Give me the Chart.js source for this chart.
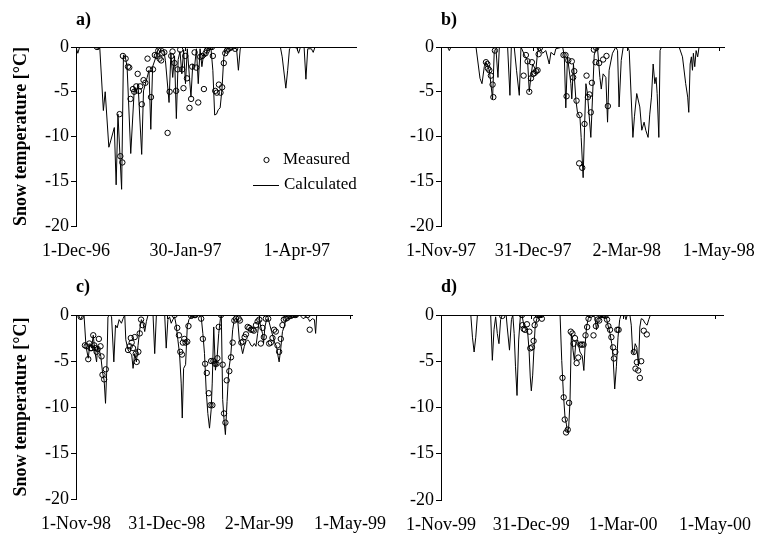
<!DOCTYPE html>
<html>
<head>
<meta charset="utf-8">
<script src="https://cdn.jsdelivr.net/npm/chart.js@4.4.1/dist/chart.umd.min.js"></script>
<style>
  html, body { margin: 0; padding: 0; background: #fff; }
  #wrap { position: relative; width: 758px; height: 534px; overflow: hidden; }
  canvas { position: absolute; }
</style>
</head>
<body>
<div id="wrap">
  <canvas id="chart-a" width="400" height="267" style="left:0;top:0"></canvas>
  <canvas id="chart-b" width="379" height="267" style="left:379px;top:0"></canvas>
  <canvas id="chart-c" width="400" height="267" style="left:0;top:267px"></canvas>
  <canvas id="chart-d" width="379" height="267" style="left:379px;top:267px"></canvas>
</div>
<script>
'use strict';

// DATA (x = days since first tick date, y = snow temperature in degC)
const ticksA = [0, 60, 121];
const labelsA = ['1-Dec-96', '30-Jan-97', '1-Apr-97'];
const ticksB = [0, 60, 121, 181];
const labelsB = ['1-Nov-97', '31-Dec-97', '2-Mar-98', '1-May-98'];
const ticksC = [0, 60, 121, 181];
const labelsC = ['1-Nov-98', '31-Dec-98', '2-Mar-99', '1-May-99'];
const ticksD = [0, 60, 121, 182];
const labelsD = ['1-Nov-99', '31-Dec-99', '1-Mar-00', '1-May-00'];

const calcA = [[0,0],[1,-0.7],[2,0],[11,0],[12,-0.3],[13,0],[15,-7.1],[16,-5.0],[18,-11.2],[19,-10.5],[21,-9.0],[22,-15.4],[23,-7.5],[25,-15.9],[26,-0.9],[27,-1.1],[28,-2.2],[30,-11.9],[32,-4.5],[33,-5.2],[34,-4.1],[36,-12.0],[37,-4.9],[39,-3.4],[40,-2.6],[41,-9.2],[42,-2.2],[44,-1.0],[45,-0.2],[46,-0.6],[47,0],[48,-0.3],[49,-1.5],[51,-6.2],[52,-0.7],[53,-3.4],[54,-1.0],[55,-8.0],[56,-1.4],[57,-0.5],[58,-3.0],[59,-0.3],[60,-4.1],[61,-0.2],[63,-5.6],[64,-1.9],[65,-2.2],[66,-0.2],[67,-4.1],[68,-0.2],[69,-2.2],[70,-0.7],[71,-1.1],[72,-0.2],[73,0],[74,-0.2],[75,-2.6],[76,-7.6],[77,-7.5],[78,-7.0],[79,-6.8],[80,-4.7],[81,-1.1],[82,-0.4],[83,-0.2],[84,0],[86,-0.1],[88,-0.2],[89,-2.6],[90,-0.2],[91,0],[112,0],[113,-1.1],[115,-4.6],[116,-2.6],[117,-0.2],[118,0],[121,-0.1],[122,-0.7],[123,0],[125,0],[126,-3.6],[127,-0.2],[129,-0.2],[130,-0.6],[131,0],[154,0]];
const measA = [[11.5,0],[23.9,-7.5],[24.3,-12.2],[25.4,-12.9],[25.7,-1.0],[27.2,-1.3],[28.5,-2.2],[29.2,-2.3],[29.9,-5.8],[31.2,-4.7],[31.9,-5.0],[33.0,-4.4],[33.8,-3.0],[34.5,-4.9],[35.2,-4.4],[36.1,-6.4],[37.0,-3.7],[38.0,-4.0],[39.2,-1.3],[40.0,-2.5],[41.1,-5.6],[42.2,-2.5],[43.2,-0.9],[44.3,-1.0],[45.1,-0.4],[45.8,-1.3],[46.7,-1.5],[47.3,-0.7],[48.4,-0.6],[50.2,-9.6],[51.3,-5.0],[52.2,-1.0],[52.9,-0.5],[54.0,-1.8],[54.9,-4.9],[55.7,-2.5],[57.1,-0.3],[58.2,-2.5],[58.9,-4.6],[59.9,-1.0],[60.8,-3.5],[62.2,-6.8],[63.1,-5.8],[63.7,-2.2],[65.0,-0.6],[65.9,-2.3],[67.0,-6.2],[68.1,-1.1],[69.2,-1.0],[70.1,-4.7],[71.0,-0.7],[71.7,-0.4],[72.4,-0.1],[73.5,0],[74.5,0],[75.0,-1.0],[76.3,-4.9],[77.2,-5.1],[78.3,-4.2],[79.2,-5.1],[80.1,-4.5],[81.0,-1.8],[81.8,-0.7],[82.7,-0.4],[83.6,-0.2],[84.5,-0.1],[85.4,0],[87.2,-0.2]];

const calcB = [[0,0],[4.3,0],[5.4,-0.4],[6.5,0],[22.8,0],[25.4,-3.5],[26.7,-4.1],[28.2,-2.2],[29.3,-1.7],[31.5,-2.6],[33.6,-5.8],[34.7,-0.4],[35.8,-0.2],[37.1,-3.4],[38,0],[43.4,0],[44.9,-5.4],[45.8,0],[47.7,0],[49.2,-2.6],[51,-5.4],[52.1,0],[54.9,-1.1],[56.4,-1.5],[57.5,-5.0],[58.5,-3.4],[59.7,-1.9],[61.8,-2.6],[62.9,-0.6],[64,0],[66.2,-0.7],[68.3,-0.4],[70.5,-1.9],[71.6,-0.6],[73.8,-0.9],[74.8,-0.2],[79.2,0],[80.3,-0.9],[81.3,-6.8],[82.4,-1.1],[84.6,-4.1],[85.2,-5.8],[86.3,-1.9],[87.9,-6.0],[88.9,-7.3],[90.5,-7.8],[91.3,-10.1],[92.6,-14.6],[93.5,-9.0],[94.4,-4.1],[95.4,-5.2],[97.6,-10.1],[98.7,-5.6],[99.8,-0.9],[100.9,-0.2],[101.9,0],[103.5,-3.4],[104.4,-4.7],[105.6,-3.0],[107.4,-3.4],[108.5,-8.4],[109.5,-2.6],[111.7,-0.7],[113.9,0],[115,-0.4],[116,-6.7],[117.4,-1.5],[118.7,0],[121.5,0],[122.6,-0.4],[125,-10.1],[126,-7.8],[127.5,-5.2],[129.5,-6.7],[130.8,-9.3],[132.3,-8.4],[133.4,-9.3],[134.9,-10.1],[136,-7.5],[137.1,-5.6],[138.2,-1.9],[139.3,-4.1],[140.1,-3.4],[140.8,-5.2],[141.9,-10.1],[142.7,-0.4],[143.6,0],[155.1,0],[157.3,-1.1],[159.4,-4.1],[160.7,-5.6],[161.4,-7.3],[162.3,-1.9],[163.1,-1.1],[163.8,-2.6],[164.4,-0.7],[165.3,-2.2],[166.2,-0.4],[167.2,-1.1],[168.1,0],[185,0]];
const measB = [[29.3,-1.7],[30.2,-1.9],[30.6,-2.4],[31.5,-2.6],[32.5,-3.2],[33.6,-4.2],[34.1,-5.6],[35.1,-0.4],[53.8,-3.2],[55.3,-0.9],[56.4,-1.6],[57.5,-5.0],[58.6,-3.5],[59.2,-1.7],[60.1,-3.0],[61,-2.9],[62,-2.7],[62.9,-2.6],[63.6,-0.8],[64.4,-0.1],[79.8,-0.9],[81.1,-0.9],[81.8,-5.5],[82.9,-1.5],[85.2,-1.6],[86.1,-3.4],[86.8,-2.7],[88.3,-6.0],[90.2,-7.6],[90,-13.0],[92,-13.5],[93.5,-8.6],[94.8,-3.2],[95.7,-5.6],[96.7,-5.3],[97.6,-7.3],[98.3,-4.0],[99.6,-0.3],[100.7,-1.7],[101.1,-0.1],[103,-1.8],[105.6,-1.4],[107.8,-1.0],[108.7,-6.6]];

const calcC = [[0,0],[1.5,0],[3.1,-0.5],[4.4,0],[5.3,0],[6.6,-3.4],[8.1,-4.7],[9.2,-3.1],[10.3,-3.6],[11.4,-2.2],[12.5,-4.0],[13.6,-5.1],[14.3,-3.4],[15.4,-3.8],[16.4,-4.5],[17.5,-6.2],[18.6,-7.1],[19.5,-9.6],[20.4,-5.6],[21.1,-0.2],[22.4,0],[23.5,-0.2],[25,-5.1],[26.1,-1.1],[27.2,-1.4],[28.5,-0.5],[30,-0.9],[31.1,-0.4],[32.2,0],[32.9,-2.7],[34.4,-3.8],[36,-4.2],[36.8,-4.3],[37.7,-5.8],[38.8,-4.2],[39.9,-5.1],[41,-3.3],[42.1,-1.6],[43.2,-0.5],[44.3,-0.9],[45.4,-1.8],[46.5,-0.7],[47.6,0],[50.9,0],[52,-4.2],[53.1,0],[58.6,0],[59.6,-3.6],[60.7,-0.5],[61.8,-0.2],[62.9,-0.9],[64,-0.5],[65.1,-0.2],[66.2,-1.1],[67.3,-2.7],[68.4,-4.2],[69.5,-7.4],[70.2,-11.2],[71.1,-5.8],[72.4,-5.4],[73.5,-1.3],[74.6,-0.5],[76.1,-0.2],[77.2,0],[81.6,0],[82.7,-0.2],[83.8,-2.0],[84.9,-4.2],[86,-8.2],[87.1,-10.7],[88.2,-12.3],[89.3,-10.3],[90,-7.4],[91,-1.3],[92.1,-6.0],[93.2,-4.7],[94.3,-2.0],[95.4,-0.4],[96,0],[96.9,-9.2],[97.8,-11.4],[98.7,-13.0],[99.8,-9.4],[100.9,-6.0],[102.2,-4.5],[103.5,-1.6],[104.6,-0.5],[105.7,-0.4],[106.8,-0.5],[107.9,-2.7],[109,-3.3],[110.1,-4.2],[111.2,-3.4],[112.3,-2.9],[113.4,-2.7],[114.5,-2.9],[115.6,-3.3],[116.7,-3.4],[117.8,-3.1],[118.9,-3.4],[120,-2.0],[121.1,-0.5],[122.1,-1.3],[123.2,-2.0],[123.9,-3.1],[124.8,-1.3],[125.9,-0.5],[127,-0.4],[128.1,-1.1],[129.2,-1.8],[130.3,-2.4],[131.4,-3.1],[132.5,-3.4],[133.3,-4.3],[134.2,-5.1],[135.3,-3.6],[136.4,-1.8],[137.5,-1.3],[138.6,-0.5],[139.9,-0.4],[141.2,-0.2],[143,0],[145.6,-0.2],[147.8,0],[150,-0.4],[152.2,-0.2],[153.5,-0.4],[154.4,-0.7],[156.1,-0.4],[157.5,-0.5],[158.3,-2.0],[159,0],[183,0]];
const measC = [[3.1,-0.2],[5.9,-3.3],[7,-3.4],[8.1,-4.8],[8.8,-3.1],[9.6,-3.6],[10.3,-3.6],[11.4,-2.2],[12.1,-3.3],[12.7,-3.6],[13.6,-4.0],[14.3,-3.7],[15.1,-2.6],[16.2,-3.4],[16.9,-4.5],[17.5,-6.5],[18.6,-7.0],[19.7,-5.9],[34.4,-3.8],[35.5,-3.4],[36.2,-2.5],[36.8,-3.0],[37.7,-3.6],[38.8,-2.4],[39.5,-4.2],[40.1,-5.1],[41.2,-4.0],[42.1,-2.0],[43,-0.5],[43.9,-1.1],[65.1,0],[66.9,-1.4],[68,-2.2],[68.9,-4.0],[70,-4.3],[70.6,-3.0],[71.5,-2.6],[72.4,-3.0],[73.5,-2.9],[74.3,-1.2],[76.1,-0.1],[77.2,0],[78.3,0],[78.9,0],[82.7,-0.4],[83.8,-2.6],[85.3,-5.3],[86.4,-6.3],[87.7,-8.5],[88.8,-9.8],[89.3,-5.0],[90.1,-9.8],[90.8,-5.0],[91.9,-5.3],[92.8,-5.3],[93.4,-4.7],[94.3,-1.3],[95.8,0],[96.9,-5.4],[97.8,-10.7],[98.7,-11.7],[99.6,-7.1],[101.3,-6.1],[102.4,-4.6],[103.5,-3.0],[104.6,-0.6],[105.7,-0.4],[107.5,-0.4],[108.3,-0.6],[109.2,-3.0],[110.3,-2.9],[111.4,-2.4],[112.3,-2.1],[113.4,-1.3],[114.5,-1.4],[115.6,-1.6],[116.7,-1.6],[117.5,-1.7],[118.9,-1.1],[120,-0.7],[121.1,-0.5],[122.1,-3.1],[123.2,-1.4],[124.1,-2.4],[125.4,-0.4],[127,-0.4],[127.6,-3.1],[128.7,-3.0],[129.8,-2.5],[130.9,-1.6],[132,-1.8],[133.1,-3.3],[134.2,-4.0],[135.3,-2.6],[136.4,-1.1],[137.3,-0.5],[138.6,-0.4],[139.7,-0.3],[140.8,-0.1],[141.9,-0.1],[143,0],[144.1,0],[145.2,0],[152.9,0],[154.4,-1.6]];

const calcD = [[0,0],[19.8,0],[20.9,-2.4],[22,-4.0],[23.1,-2.4],[24.2,0],[33,0],[34.1,-4.9],[35.2,-1.6],[36.3,-0.2],[37.4,-2.0],[38.5,-3.1],[39.6,-0.5],[40.7,0],[43.3,0],[44,-1.3],[45.5,-3.8],[46.8,-0.5],[47.7,0],[48.6,-2.0],[49.5,-5.6],[50.5,-8.7],[51.6,-2.7],[52.7,-0.2],[53.8,0],[55.2,-1.3],[56.5,-1.6],[57.4,-1.5],[58.5,-3.8],[59.3,-6.7],[60,-8.2],[60.9,-6.5],[61.8,-3.5],[62.6,-1.1],[63.7,-0.4],[64.8,0],[79.1,0],[80.2,-4.9],[81.3,-8.5],[82.4,-11.1],[83.3,-11.8],[84,-12.7],[84.8,-12.2],[85.7,-9.3],[86.6,-2.0],[87.7,-3.8],[88.6,-4.9],[89.5,-3.1],[90.8,-2.7],[92.3,-4.0],[93.8,-4.4],[94.9,-6.0],[95.8,-3.1],[96.7,-1.3],[97.8,-0.4],[98.9,0],[102.2,-0.2],[103.3,-1.6],[104.4,-0.5],[105.7,-0.2],[107,0],[109.2,0],[110.1,-0.5],[111.2,-1.3],[112.3,-2.0],[113.4,-3.1],[114.3,-4.5],[115.4,-8.0],[116.5,-5.6],[117.6,-2.4],[118.7,-0.5],[119.6,0],[122,0],[122.9,-0.5],[123.7,0],[125.5,0],[126.4,-1.1],[127.3,-4.0],[128.1,-4.2],[129,-3.1],[130.1,-3.5],[131.2,-5.5],[132.1,-1.3],[133,-0.4],[134.3,-0.5],[135.6,-0.9],[136.9,-1.1],[138,-0.5],[139.1,0],[188,0]];
const measD = [[40.7,-0.1],[53.8,0],[54.1,-1.1],[54.9,-1.5],[55.8,-1.6],[57.1,-1.0],[58.7,-1.8],[59.3,-3.6],[60.4,-3.5],[61.5,-2.8],[62.2,-1.1],[63.3,-0.5],[64.2,0],[65.3,0],[66.4,0],[67,-0.4],[80.7,-6.8],[81.5,-8.9],[82.2,-11.3],[83.1,-12.7],[84.2,-12.4],[85.1,-9.5],[86.2,-1.8],[87.3,-2.0],[88.1,-3.1],[89,-2.5],[90.1,-5.2],[91.2,-4.6],[92.5,-3.2],[93.6,-3.2],[94.7,-3.2],[96,-2.2],[97.1,-1.3],[98,-0.4],[99.1,0],[101.3,-2.2],[102.9,-1.2],[104,-0.5],[105.1,-0.6],[105.9,0],[107,0],[108.1,0],[109.2,-0.1],[110.3,-0.5],[111.2,-1.2],[112.3,-1.6],[113.2,-2.4],[114.3,-3.5],[114.9,-4.7],[115.8,-4.0],[117.1,-1.6],[118,-1.6],[128.1,-4.0],[129.2,-5.8],[130.1,-5.1],[131,-6.0],[132.1,-6.8],[133,-5.0],[134.7,-1.7],[136.7,-2.1]];

// STYLE
const SERIF = "'Liberation Serif', 'Times New Roman', serif";
const INK = '#000';

function toPoints(pairs) {
  return pairs.map(p => ({ x: p[0], y: p[1] }));
}

// short downward tick marks on the zero line at each date tick
const zeroTicks = {
  id: 'zeroTicks',
  afterDatasetsDraw(chart) {
    const { ctx, chartArea, scales } = chart;
    ctx.save();
    ctx.strokeStyle = INK;
    ctx.lineWidth = 1;
    scales.x.ticks.forEach(t => {
      const px = Math.round(scales.x.getPixelForValue(t.value)) + 0.5;
      ctx.beginPath();
      ctx.moveTo(px, chartArea.top);
      ctx.lineTo(px, chartArea.top + 4);
      ctx.stroke();
    });
    ctx.restore();
  }
};

// legend box inside panel a
const innerLegend = {
  id: 'innerLegend',
  afterDraw(chart) {
    const { ctx, chartArea } = chart;
    const x0 = chartArea.left + 177;
    const y1 = chartArea.top + 113;
    const y2 = chartArea.top + 138;
    ctx.save();
    ctx.strokeStyle = INK;
    ctx.lineWidth = 1;
    ctx.beginPath();
    ctx.arc(x0 + 13.5, y1, 2.6, 0, Math.PI * 2);
    ctx.stroke();
    ctx.beginPath();
    ctx.moveTo(x0, y2 + 0.5);
    ctx.lineTo(x0 + 26, y2 + 0.5);
    ctx.stroke();
    ctx.fillStyle = INK;
    ctx.font = '17px ' + SERIF;
    ctx.textBaseline = 'middle';
    ctx.fillText('Measured', x0 + 30, y1);
    ctx.fillText('Calculated', x0 + 31, y2);
    ctx.restore();
  }
};

function makePanel(id, panel) {
  let plugins = [zeroTicks];
  if (panel.legend) {
    plugins.push(innerLegend);
  }

  new Chart(document.getElementById(id), {
    type: 'line',
    data: {
      datasets: [{
        label: 'Calculated',
        data: toPoints(panel.calc),
        borderColor: INK,
        borderWidth: 1,
        pointRadius: 0,
        tension: 0,
        fill: false,
        order: 2
      },
      {
        label: 'Measured',
        data: toPoints(panel.meas),
        showLine: false,
        pointStyle: 'circle',
        pointRadius: 2.7,
        pointBorderWidth: 1,
        pointBorderColor: INK,
        pointBackgroundColor: 'rgba(0,0,0,0)',
        order: 1
      }]
    },
    options: {
      responsive: false,
      animation: false,
      layout: {
        autoPadding: false,
        padding: { left: 0, right: panel.padRight, top: 0, bottom: 0 }
      },
      plugins: {
        legend: { display: false },
        tooltip: { enabled: false },
        title: {
          display: true,
          text: panel.letter,
          align: 'start',
          fullSize: false,
          color: INK,
          font: { family: SERIF, size: 18, weight: 'bold' },
          padding: { top: 10, bottom: panel.top - 31.6 }
        }
      },
      scales: {
        x: {
          type: 'linear',
          min: 0,
          max: panel.maxDay,
          afterBuildTicks: scale => {
            scale.ticks = panel.ticks.map(v => ({ value: v }));
          },
          afterFit: scale => {
            // labels may hang past the plot ends, like the original
            scale.height = panel.xHeight;
            scale.paddingLeft = 0;
            scale.paddingRight = 0;
          },
          ticks: {
            autoSkip: false,
            maxRotation: 0,
            padding: 14,
            color: INK,
            font: { family: SERIF, size: 18 },
            callback: (v, i) => panel.labels[i]
          },
          grid: { display: false, drawTicks: false },
          border: { display: false }
        },
        y: {
          min: -20,
          max: 0,
          afterFit: scale => {
            scale.width = panel.yWidth;
          },
          ticks: {
            stepSize: 5,
            padding: 2,
            color: INK,
            font: { family: SERIF, size: 18 }
          },
          grid: {
            color: ctx => (ctx.tick && ctx.tick.value === 0 ? INK : 'rgba(0,0,0,0)'),
            tickColor: INK,
            tickLength: 5,
            lineWidth: 1
          },
          border: { display: true, color: INK, width: 1 },
          title: {
            display: panel.yTitle,
            text: 'Snow temperature [°C]',
            color: INK,
            font: { family: SERIF, size: 18, weight: 'bold' },
            padding: { top: 11, bottom: 0 }
          }
        }
      }
    },
    plugins: plugins
  });
}

// PANELS
makePanel('chart-a', { letter: 'a)', calc: calcA, meas: measA, ticks: ticksA, labels: labelsA, maxDay: 154,
  padRight: 43, yWidth: 76, xHeight: 41, top: 47, yTitle: true, legend: true });
makePanel('chart-b', { letter: 'b)', calc: calcB, meas: measB, ticks: ticksB, labels: labelsB, maxDay: 185,
  padRight: 33, yWidth: 62, xHeight: 41, top: 47, yTitle: false, legend: false });
makePanel('chart-c', { letter: 'c)', calc: calcC, meas: measC, ticks: ticksC, labels: labelsC, maxDay: 183,
  padRight: 47, yWidth: 76, xHeight: 35, top: 48, yTitle: true, legend: false });
makePanel('chart-d', { letter: 'd)', calc: calcD, meas: measD, ticks: ticksD, labels: labelsD, maxDay: 188,
  padRight: 34, yWidth: 62, xHeight: 34, top: 48, yTitle: false, legend: false });
</script>
</body>
</html>
